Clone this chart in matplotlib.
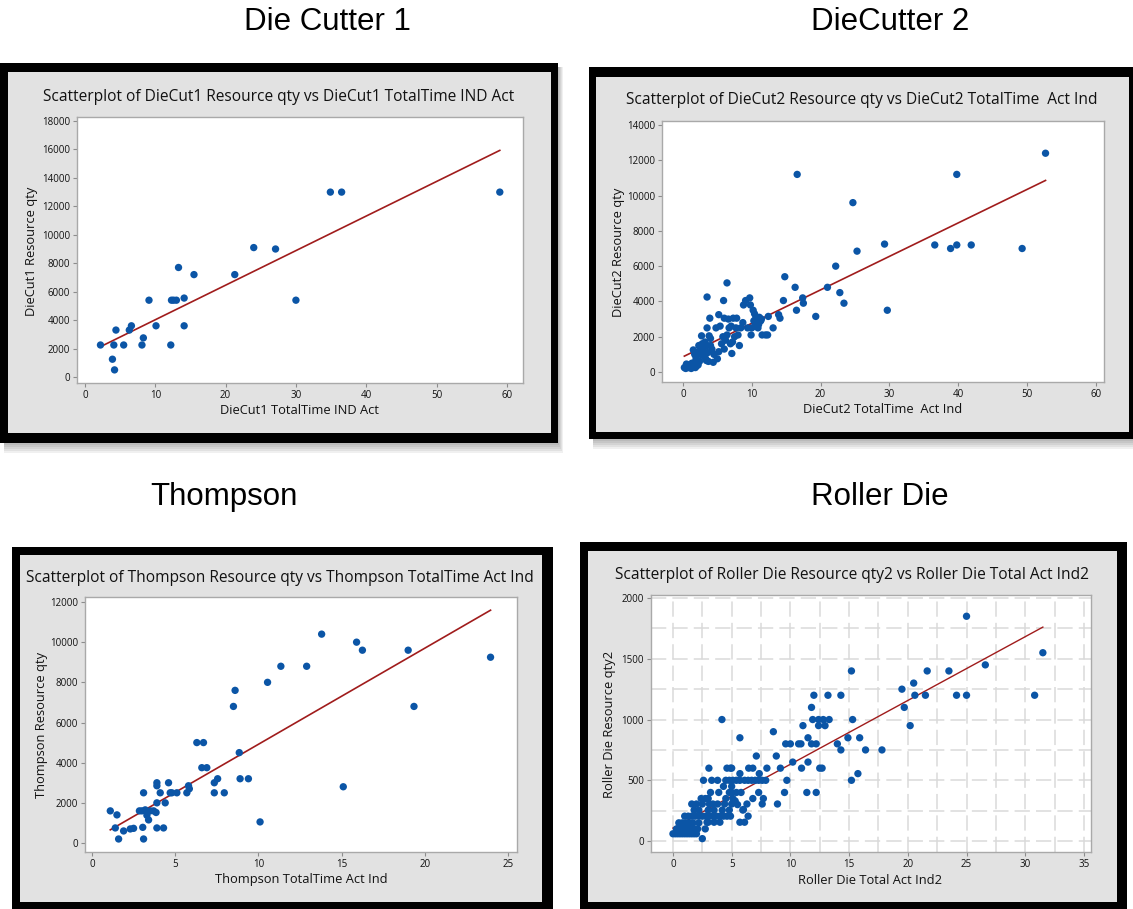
import numpy as np

import matplotlib
matplotlib.use('Agg')  # noqa

import matplotlib.pyplot as plt  # noqa
from matplotlib.patches import Rectangle  # noqa

W, H = 1133, 909

# ---- data ----
dc1_time = [2.2, 4.1, 3.9, 4.2, 4.4, 5.5, 6.3, 6.6, 8.1, 8.3, 9.1, 10.1, 12.2,
            12.3, 12.6, 13.0, 13.3, 14.1, 14.1, 15.5, 21.3, 24.0, 27.1, 30.0,
            34.9, 36.5, 59.0]
dc1_qty = [2250, 2250, 1250, 500, 3300, 2250, 3300, 3600, 2250, 2750, 5400,
           3600, 2250, 5400, 5400, 5400, 7700, 5550, 3600, 7200, 7200, 9100,
           9000, 5400, 13000, 13000, 13000]
dc1_fit = (1597, 243.0)  # intercept, slope of the drawn regression line

dc2_time = [0.2, 0.4, 0.6, 0.8, 1.0, 1.2, 1.4, 1.6, 1.8, 2.0, 0.5, 0.9, 1.3,
            1.7, 2.2, 2.4, 1.5, 1.7, 1.9, 2.1, 2.3, 2.5, 2.7, 2.9, 3.0, 3.2,
            3.3, 3.5, 3.5, 3.5, 3.6, 3.7, 3.8, 3.9, 4.0, 4.2, 4.4, 4.5, 4.8,
            5.0, 5.2, 5.2, 5.4, 5.6, 5.8, 5.9, 6.0, 6.0, 6.2, 6.4, 6.4, 6.6,
            6.7, 6.9, 7.0, 7.1, 7.2, 7.3, 7.5, 7.7, 7.8, 8.0, 8.2, 8.4, 8.7,
            8.8, 9.1, 9.4, 9.7, 9.8, 9.9, 10.0, 10.2, 10.3, 10.4, 10.5, 10.6,
            10.7, 10.8, 10.9, 11.0, 11.1, 11.3, 11.4, 11.5, 12.0, 12.3, 12.4,
            13.1, 13.9, 14.1, 14.6, 14.8, 16.3, 16.5, 17.4, 17.5, 16.6, 19.3,
            21.0, 22.2, 22.8, 23.4, 24.7, 25.3, 29.3, 29.7, 36.6, 38.9, 39.8,
            39.8, 41.9, 49.3, 52.7, 2.0, 2.6, 3.0, 3.4, 4.0, 2.8]
dc2_qty = [250, 200, 300, 250, 350, 200, 300, 400, 250, 350, 450, 400, 500,
           550, 400, 600, 1250, 1000, 800, 1100, 1500, 1300, 2050, 1400, 900,
           1700, 750, 1500, 2500, 4250, 1100, 600, 2050, 3050, 1900, 1300, 550,
           1000, 2500, 750, 1150, 3250, 2600, 1600, 2000, 4050, 3050, 1300,
           1800, 5050, 2100, 3000, 2500, 1600, 2600, 1050, 1700, 3050, 2000,
           2500, 3050, 2100, 1500, 2500, 2800, 3800, 4050, 2500, 4200, 3800,
           2100, 2500, 3500, 2900, 3300, 2600, 3100, 2800, 3000, 2500, 2700,
           3100, 2900, 3000, 2100, 2100, 2100, 3150, 2500, 3250, 3050, 4050,
           5400, 4800, 3500, 4200, 3900, 11200, 3150, 4800, 6000, 4500, 3900,
           9600, 6850, 7250, 3500, 7200, 7000, 7200, 11200, 7200, 7000, 12400,
           700, 1000, 1200, 650, 1500, 1600]
dc2_fit = (861, 189.7)

thompson_time = [1.1, 1.5, 1.4, 1.6, 1.9, 2.3, 2.5, 3.1, 3.05, 3.1, 2.85, 3.0,
                 3.2, 3.3, 3.4, 3.5, 3.7, 3.85, 3.9, 3.9, 3.9, 3.9, 4.1, 4.3,
                 4.4, 4.6, 4.7, 4.8, 5.1, 5.7, 5.8, 5.85, 6.3, 6.7, 6.6, 6.9,
                 7.35, 7.55, 7.35, 7.95, 8.5, 8.6, 8.85, 8.9, 9.4, 10.1, 10.55,
                 11.35, 12.9, 13.8, 15.1, 15.9, 16.25, 19.0, 19.35, 23.95]
thompson_qty = [1600, 1400, 750, 200, 600, 700, 730, 2500, 780, 200, 1600,
                1600, 1650, 1380, 1150, 1600, 1600, 1520, 3000, 2850, 2000, 750,
                2500, 750, 2000, 3000, 2500, 2500, 2500, 2500, 2850, 2700, 5000,
                5000, 3750, 3750, 3000, 3200, 2500, 2500, 6800, 7600, 4500,
                3200, 3200, 1050, 8000, 8800, 8800, 10400, 2800, 10000, 9600,
                9600, 6800, 9250]
thompson_fit = (129, 478.6)

roller_time = [
    0.0, 0.2, 0.4, 0.6, 0.8, 1.0, 1.2, 1.4, 1.6, 1.8, 2.0,
    0.3, 0.6, 0.9, 1.2, 1.5, 1.8, 2.1,
    0.5, 0.8, 1.1, 1.4, 1.7, 2.2,
    0.7, 1.0, 1.3, 1.6, 2.5, 2.75,
    2.9, 3.0, 3.5, 4.0, 5.7, 6.1,
    1.0, 1.3, 1.6, 1.9, 2.2, 2.5, 2.8, 3.1, 3.4, 3.7, 4.0, 4.3, 4.6, 4.9, 6.4,
    1.8, 2.2, 3.0, 3.5, 4.2, 4.8, 5.95,
    1.6, 2.0, 2.5, 3.1, 3.4, 3.8, 4.4, 5.0, 6.3, 7.6, 8.9,
    2.4, 2.76, 3.0, 4.5, 5.1, 6.8, 7.7,
    4.3, 5.0, 5.3, 5.5, 6.0,
    3.2, 3.9, 4.8, 5.0, 5.4, 5.8, 7.3, 9.5, 11.4, 12.2,
    2.6, 3.3, 3.8, 4.5, 4.8, 5.1, 5.4, 5.7, 6.1, 6.4, 6.7, 7.0, 7.3, 7.6, 7.9,
    9.7, 15.2,
    5.7, 7.35, 15.75,
    3.06, 4.6, 4.9, 5.0, 6.45, 6.8, 8.0, 9.15, 10.95, 12.5, 12.7,
    10.2, 11.5, 7.1, 8.8,
    5.7, 4.17, 8.55,
    9.6, 10.0, 10.7, 10.9, 11.8, 12.2, 14.0,
    14.3, 16.4, 17.8, 11.5, 14.9, 15.9,
    11.07, 12.4, 12.95, 20.2,
    11.9, 12.4, 12.8, 13.3, 15.3,
    11.8, 12.0, 13.2, 14.3, 15.2,
    19.5, 19.7, 20.5, 20.6, 21.5, 21.65, 23.5, 24.15, 25.0, 25.0, 26.6, 30.8,
    31.5,
]
roller_qty = [
    60, 60, 60, 60, 60, 60, 60, 60, 60, 60, 60,
    100, 100, 100, 100, 100, 100, 100,
    150, 150, 150, 150, 150, 150,
    130, 120, 80, 130, 20, 100,
    155, 155, 155, 155, 155, 155,
    205, 205, 205, 205, 205, 205, 205, 205, 205, 205, 205, 205, 205, 205, 205,
    255, 255, 255, 255, 255, 255, 255,
    305, 305, 305, 305, 305, 305, 305, 305, 305, 305, 305,
    350, 350, 350, 350, 350, 350, 350,
    450, 450, 330, 300, 260,
    400, 400, 400, 400, 400, 400, 400, 400, 400, 400,
    500, 500, 500, 500, 500, 500, 500, 500, 500, 500, 500, 500, 500, 500, 500,
    500, 500,
    555, 555, 555,
    600, 600, 600, 600, 600, 600, 600, 600, 600, 600, 600,
    650, 650, 700, 700,
    850, 1000, 900,
    800, 800, 800, 800, 800, 800, 800,
    750, 750, 750, 850, 850, 850,
    950, 950, 950, 950,
    1000, 1000, 1000, 1000, 1000,
    1100, 1200, 1200, 1200, 1400,
    1250, 1100, 1300, 1200, 1200, 1400, 1400, 1200, 1200, 1850, 1450, 1200,
    1550,
]
roller_fit = (107, 52.5)

# ---- layout (pixel boxes: left, top, right, bottom) ----
PANELS = [
    dict(head='Die Cutter 1', head_xy=(327, 22),
         outer=(0, 63, 558, 443), inner=(8, 72, 551, 433),
         axes=(77, 117, 523, 383), shadow=True,
         x=dc1_time, y=dc1_qty, fit=dc1_fit,
         xlim=(-1.14, 62.3), ylim=(-422, 18281),
         xticks=np.arange(0, 61, 10), yticks=np.arange(0, 18001, 2000),
         title='Scatterplot of DieCut1 Resource qty vs DieCut1 TotalTime IND Act',
         title_xy=(279, 97),
         xlabel='DieCut1 TotalTime IND Act', xlabel_xy=(300, 410),
         ylabel='DieCut1 Resource qty', ylabel_xy=(31, 251), grid=False),
    dict(head='DieCutter 2', head_xy=(890, 22),
         outer=(589, 67, 1133, 439), inner=(596, 77, 1129, 432),
         axes=(662, 121, 1104, 382), shadow=True,
         x=dc2_time, y=dc2_qty, fit=dc2_fit,
         xlim=(-3.05, 61.2), ylim=(-567, 14227),
         xticks=np.arange(0, 61, 10), yticks=np.arange(0, 14001, 2000),
         title='Scatterplot of DieCut2 Resource qty vs DieCut2 TotalTime  Act Ind',
         title_xy=(862, 100),
         xlabel='DieCut2 TotalTime  Act Ind', xlabel_xy=(883, 409),
         ylabel='DieCut2 Resource qty', ylabel_xy=(619, 252), grid=False),
    dict(head='Thompson', head_xy=(224, 497),
         outer=(12, 547, 553, 915), inner=(20, 555, 542, 902),
         axes=(85, 597, 517, 852), shadow=False,
         x=thompson_time, y=thompson_qty, fit=thompson_fit,
         xlim=(-0.42, 25.54), ylim=(-448, 12249),
         xticks=np.arange(0, 26, 5), yticks=np.arange(0, 12001, 2000),
         title='Scatterplot of Thompson Resource qty vs Thompson TotalTime Act Ind',
         title_xy=(280, 578),
         xlabel='Thompson TotalTime Act Ind', xlabel_xy=(301, 879),
         ylabel='Thompson Resource qty', ylabel_xy=(42, 725), grid=False),
    dict(head='Roller Die', head_xy=(880, 497),
         outer=(580, 542, 1127, 915), inner=(588, 551, 1117, 902),
         axes=(651, 595, 1091, 852), shadow=False,
         x=roller_time, y=roller_qty, fit=roller_fit,
         xlim=(-1.87, 35.6), ylim=(-90, 2025),
         xticks=np.arange(0, 36, 5), yticks=np.arange(0, 2001, 500),
         title='Scatterplot of Roller Die Resource qty2 vs Roller Die Total Act Ind2',
         title_xy=(852, 575),
         xlabel='Roller Die Total Act Ind2', xlabel_xy=(870, 881),
         ylabel='Roller Die Resource qty2', ylabel_xy=(610, 724), grid=True),
]

DOT = '#0b55a6'
FIT = '#a01c1c'
PANEL_BG = '#e2e2e2'
FONT = ['Open Sans', 'DejaVu Sans']


def fx(x):
    return x / W


def fy(y):
    return 1 - y / H


def add_box(fig, box, **kw):
    x0, y0, x1, y1 = box
    fig.add_artist(Rectangle((fx(x0), fy(y1)), (x1 - x0) / W, (y1 - y0) / H,
                             transform=fig.transFigure, zorder=-5, **kw))


def draw_panel(fig, p):
    if p['shadow']:
        x0, y0, x1, y1 = p['outer']
        for k in range(1, 6):
            add_box(fig, (x0 + 4, y0 + 4, x1 + k, y1 + 2 * k),
                    facecolor='black', edgecolor='none', alpha=0.06, lw=0)
    add_box(fig, p['outer'], facecolor='black', edgecolor='none', lw=0)
    add_box(fig, p['inner'], facecolor=PANEL_BG, edgecolor='none', lw=0)

    fig.text(fx(p['head_xy'][0]), fy(p['head_xy'][1]), p['head'],
             family='Liberation Sans', fontsize=22.5, ha='center', va='center')

    l, t, r, b = p['axes']
    ax = fig.add_axes([fx(l), fy(b), (r - l) / W, (b - t) / H])
    ax.set_facecolor('white')

    x = np.asarray(p['x'], dtype=float)
    y = np.asarray(p['y'], dtype=float)
    ax.scatter(x, y, s=28, color=DOT, edgecolors='none', zorder=3)

    b0, b1 = p['fit']
    xs = np.array([x.min(), x.max()])
    ax.plot(xs, b0 + b1 * xs, color=FIT, lw=1.0 if p['grid'] else 1.2,
            zorder=2)

    ax.set_xlim(*p['xlim'])
    ax.set_ylim(*p['ylim'])
    ax.set_xticks(p['xticks'])
    ax.set_yticks(p['yticks'])
    for lab in ax.get_xticklabels() + ax.get_yticklabels():
        lab.set_family(FONT)
    ax.tick_params(labelsize=7, length=3, width=0.8, color='#8c8c8c',
                   labelcolor='#111111', pad=2)
    for s in ax.spines.values():
        s.set_color('#a9a9a9')
        s.set_linewidth(1)

    if p['grid']:
        step_x = p['xticks'][1] / 2
        step_y = p['yticks'][1] / 2
        ax.set_xticks(np.arange(0, p['xlim'][1], step_x), minor=True)
        ax.set_yticks(np.arange(0, p['ylim'][1], step_y), minor=True)
        ax.tick_params(which='minor', length=0)
        ax.grid(True, which='both', color='#dadada', lw=1.1,
                linestyle=(0, (10, 4)), zorder=0)
        ax.set_axisbelow(True)

    fig.text(fx(p['title_xy'][0]), fy(p['title_xy'][1]), p['title'],
             family=FONT, fontsize=11.2, ha='center', va='center',
             color='#111111')
    fig.text(fx(p['xlabel_xy'][0]), fy(p['xlabel_xy'][1]), p['xlabel'],
             family=FONT, fontsize=9.3, ha='center', va='center',
             color='#111111')
    fig.text(fx(p['ylabel_xy'][0]), fy(p['ylabel_xy'][1]), p['ylabel'],
             family=FONT, fontsize=9.3, ha='center', va='center',
             rotation=90, color='#111111')
    return ax


def main():
    fig = plt.figure(figsize=(W / 100, H / 100), dpi=100)
    fig.patch.set_facecolor('white')
    for p in PANELS:
        draw_panel(fig, p)
    fig.savefig('out.png', dpi=100)


if __name__ == '__main__':
    main()
